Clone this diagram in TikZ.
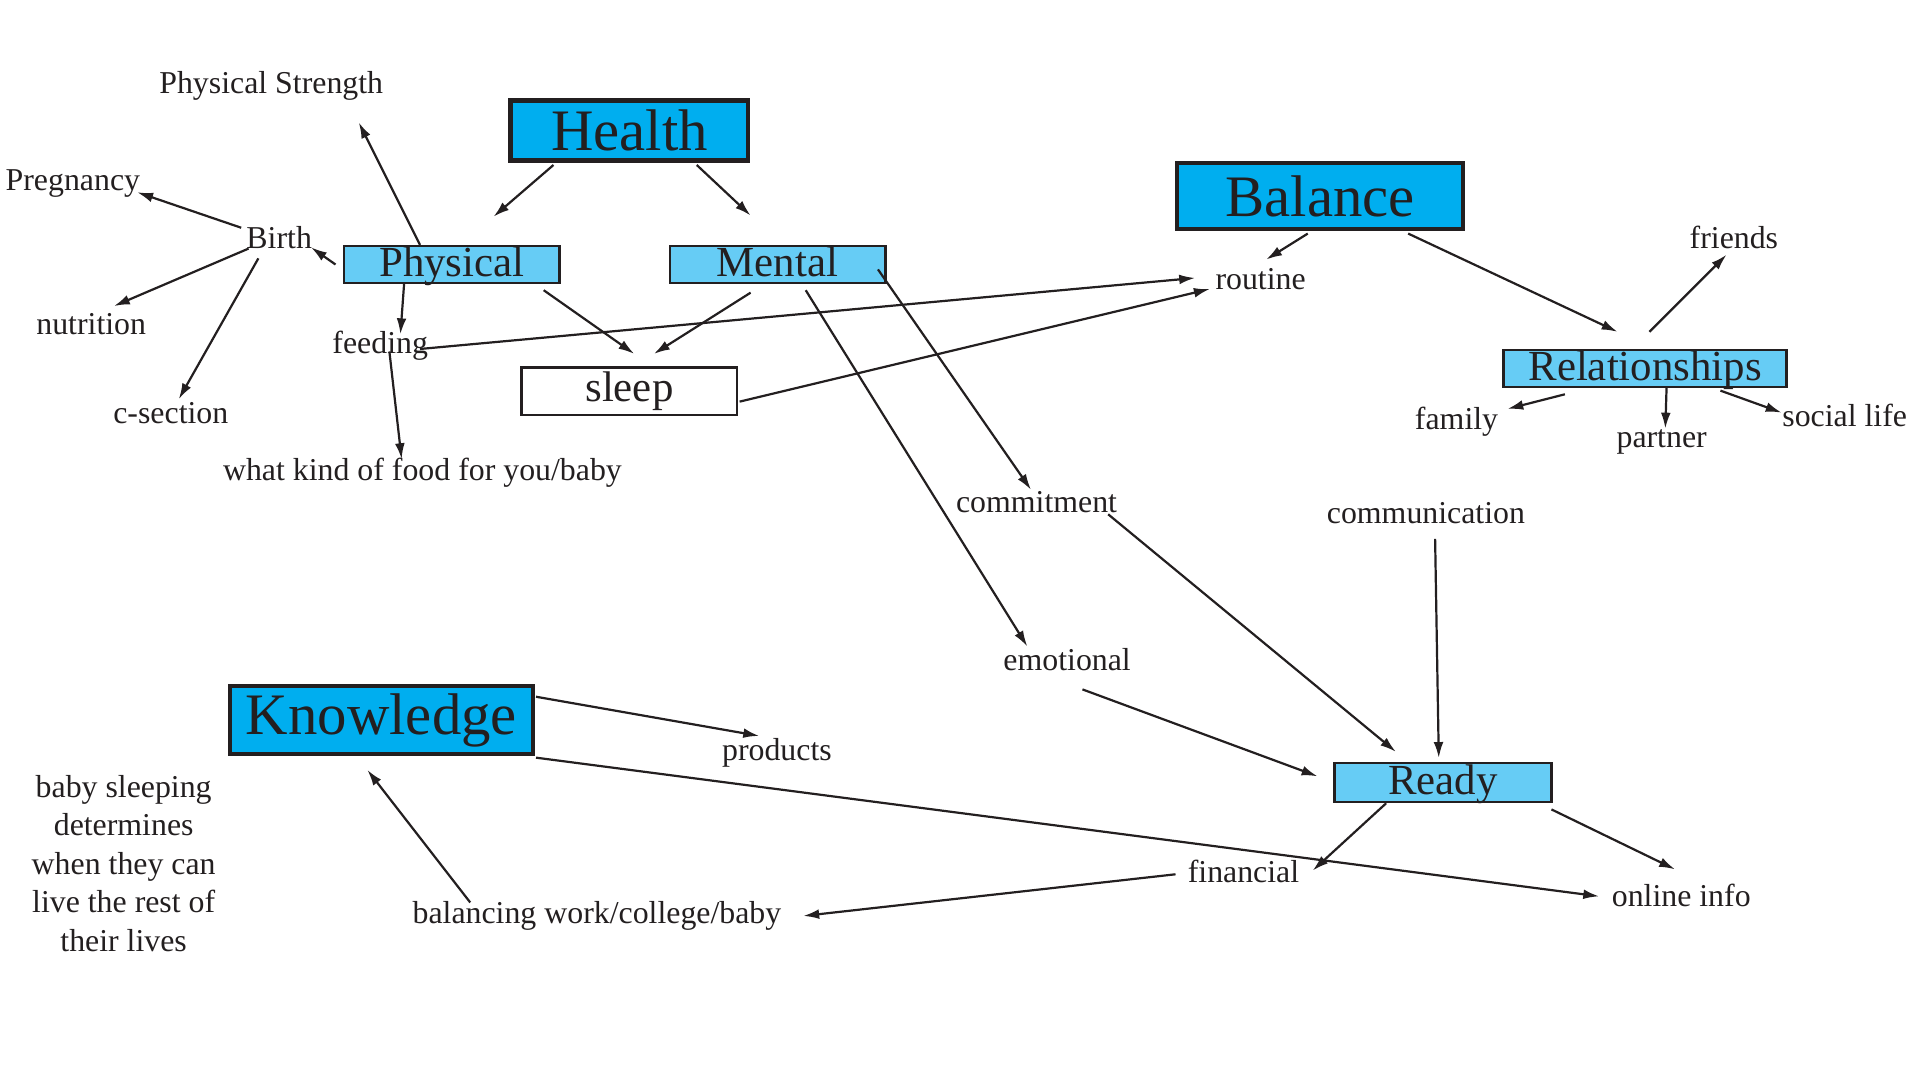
\documentclass[tikz,border=0pt]{standalone}
\usepackage{fontspec}
\setmainfont{Liberation Serif}
\usetikzlibrary{arrows.meta}
\definecolor{ink}{RGB}{35,31,32}
\definecolor{hcyan}{RGB}{0,174,239}
\definecolor{lcyan}{RGB}{102,204,245}

\begin{document}
\begin{tikzpicture}[x=1pt,y=-1pt,color=ink,>={Latex[length=13pt,width=8pt]},
    big/.style={draw=ink,line width=3.5pt,fill=hcyan,inner sep=0pt,font=\fontsize{48}{52}\selectfont},
    mid/.style={draw=ink,line width=2pt,fill=lcyan,inner sep=0pt,minimum width=176pt,text height=25pt,text depth=5pt,font=\fontsize{35}{38}\selectfont},
    lbl/.style={inner sep=1pt,font=\fontsize{26}{31.5}\selectfont},
    arr/.style={->,line width=1.8pt}]
  \useasboundingbox (0,0) rectangle (1568,888);
  % main boxes
  \node[big,minimum width=194pt,minimum height=49pt] (health) at (514,106.5) {Health};
  \node[big,minimum width=234pt,minimum height=54pt] (balance) at (1078,160) {Balance};
  \node[big,minimum width=247pt,minimum height=56pt] (knowledge) at (311.5,588) {Knowledge};
  \node[mid] (physical) at (369,216) {Physical};
  \node[mid] (mental) at (635,216) {Mental};
  \node[mid,minimum width=231pt] (relationships) at (1343.5,301) {Relationships};
  \node[mid,minimum width=177pt,minimum height=32pt] (ready) at (1178.5,639) {Ready};
  \node[draw=ink,line width=2pt,fill=white,inner sep=0pt,minimum width=176pt,minimum height=39pt,
    font=\fontsize{35}{38}\selectfont] (sleep) at (514,319.5) {sleep};
  % labels
  \node[lbl] (pstrength) at (221.5,70) {Physical Strength};
  \node[lbl] (pregnancy) at (59.5,150) {Pregnancy};
  \node[lbl] (birth) at (228,194) {Birth};
  \node[lbl] (nutrition) at (74.5,265) {nutrition};
  \node[lbl] (csection) at (139.5,337) {c-section};
  \node[lbl] (feeding) at (310.5,282) {feeding};
  \node[lbl] (food) at (345,386) {what kind of food for you/baby};
  \node[lbl] (routine) at (1029.5,228) {routine};
  \node[lbl] (friends) at (1416,194) {friends};
  \node[lbl] (family) at (1189.5,344) {family};
  \node[lbl] (partner) at (1357,361) {partner};
  \node[lbl] (social) at (1506.5,339) {social life};
  \node[lbl] (commitment) at (846.5,410) {commitment};
  \node[lbl] (communication) at (1164.5,419) {communication};
  \node[lbl] (emotional) at (871.5,539) {emotional};
  \node[lbl] (products) at (634.5,615) {products};
  \node[lbl] (financial) at (1015.5,712) {financial};
  \node[lbl] (online) at (1373,731) {online info};
  \node[lbl] (balancing) at (487.5,748) {balancing work/college/baby};
  \node[lbl,align=center] (note) at (101,705) {baby sleeping\\determines\\when they can\\live the rest of\\their lives};
  % health
  \draw[arr] ([shift={(-62,2)}]health.south) -- ([shift={(34,-23)}]physical.north);
  \draw[arr] ([shift={(55,2)}]health.south) -- ([shift={(-22,-24)}]mental.north);
  \draw[arr] ([shift={(-26,0)}]physical.north) -- ([shift={(71.5,30)}]pstrength.center);
  \draw[arr] ([shift={(-6,0)}]physical.west) -- ([shift={(26,8)}]birth.center);
  \draw[arr] ([shift={(-31,-8)}]birth.center) -- ([shift={(52.5,7)}]pregnancy.center);
  \draw[arr] ([shift={(-25,9)}]birth.center) -- ([shift={(18.5,-15)}]nutrition.center);
  \draw[arr] ([shift={(-17,17)}]birth.center) -- ([shift={(6.5,-11)}]csection.center);
  \draw[arr] ([shift={(-39,0)}]physical.south) -- ([shift={(16.5,-9)}]feeding.center);
  \draw[arr] ([shift={(7.5,5)}]feeding.center) -- ([shift={(-17,-11)}]food.center);
  \draw[arr] ([shift={(75,5)}]physical.south) -- ([shift={(4,-10)}]sleep.north);
  \draw[arr] ([shift={(-22,7)}]mental.south) -- ([shift={(20,-10)}]sleep.north);
  \draw[arr] ([shift={(32.5,3)}]feeding.center) -- ([shift={(-53.5,-1)}]routine.center);
  \draw[arr] ([shift={(1,8.5)}]sleep.east) -- ([shift={(-41.5,8)}]routine.center);
  % balance
  \draw[arr] ([shift={(-10,2)}]balance.south) -- ([shift={(4.5,-16)}]routine.center);
  \draw[arr] ([shift={(72,2)}]balance.south) -- ([shift={(-22.5,-14)}]relationships.north);
  \draw[arr] ([shift={(3.5,-14)}]relationships.north) -- ([shift={(-6,14)}]friends.center);
  \draw[arr] ([shift={(-65.5,5)}]relationships.south) -- ([shift={(41.5,-10)}]family.center);
  \draw[arr] ([shift={(17.5,0)}]relationships.south) -- ([shift={(3,-11)}]partner.center);
  \draw[arr] ([shift={(61.5,2)}]relationships.south) -- ([shift={(-51.5,-2)}]social.center);
  % ready
  \draw[arr] ([shift={(-7,4)}]mental.east) -- ([shift={(-4.5,-10)}]commitment.center);
  \draw[arr] ([shift={(23,5)}]mental.south) -- ([shift={(-32.5,-11)}]emotional.center);
  \draw[arr] ([shift={(58.5,10)}]commitment.center) -- ([shift={(-38.5,-8)}]ready.north);
  \draw[arr] ([shift={(7.5,21)}]communication.center) -- ([shift={(-3.5,-3)}]ready.north);
  \draw[arr] ([shift={(12.5,24)}]emotional.center) -- ([shift={(-13,-5)}]ready.west);
  \draw[arr] ([shift={(-46.5,0)}]ready.south) -- ([shift={(56.5,-1)}]financial.center);
  \draw[arr] ([shift={(-1,5)}]ready.south east) -- ([shift={(-5,-21)}]online.center);
  % knowledge
  \draw[arr] ([shift={(1,-19)}]knowledge.east) -- ([shift={(-14.5,-14)}]products.center);
  \draw[arr] ([shift={(1,1)}]knowledge.south east) -- ([shift={(-67,1)}]online.center);
  \draw[arr] ([shift={(-55.5,2)}]financial.center) -- ([shift={(168.5,0)}]balancing.center);
  \draw[arr] ([shift={(-103.5,-11)}]balancing.center) -- ([shift={(-11.5,11)}]knowledge.south);
\end{tikzpicture}
\end{document}
